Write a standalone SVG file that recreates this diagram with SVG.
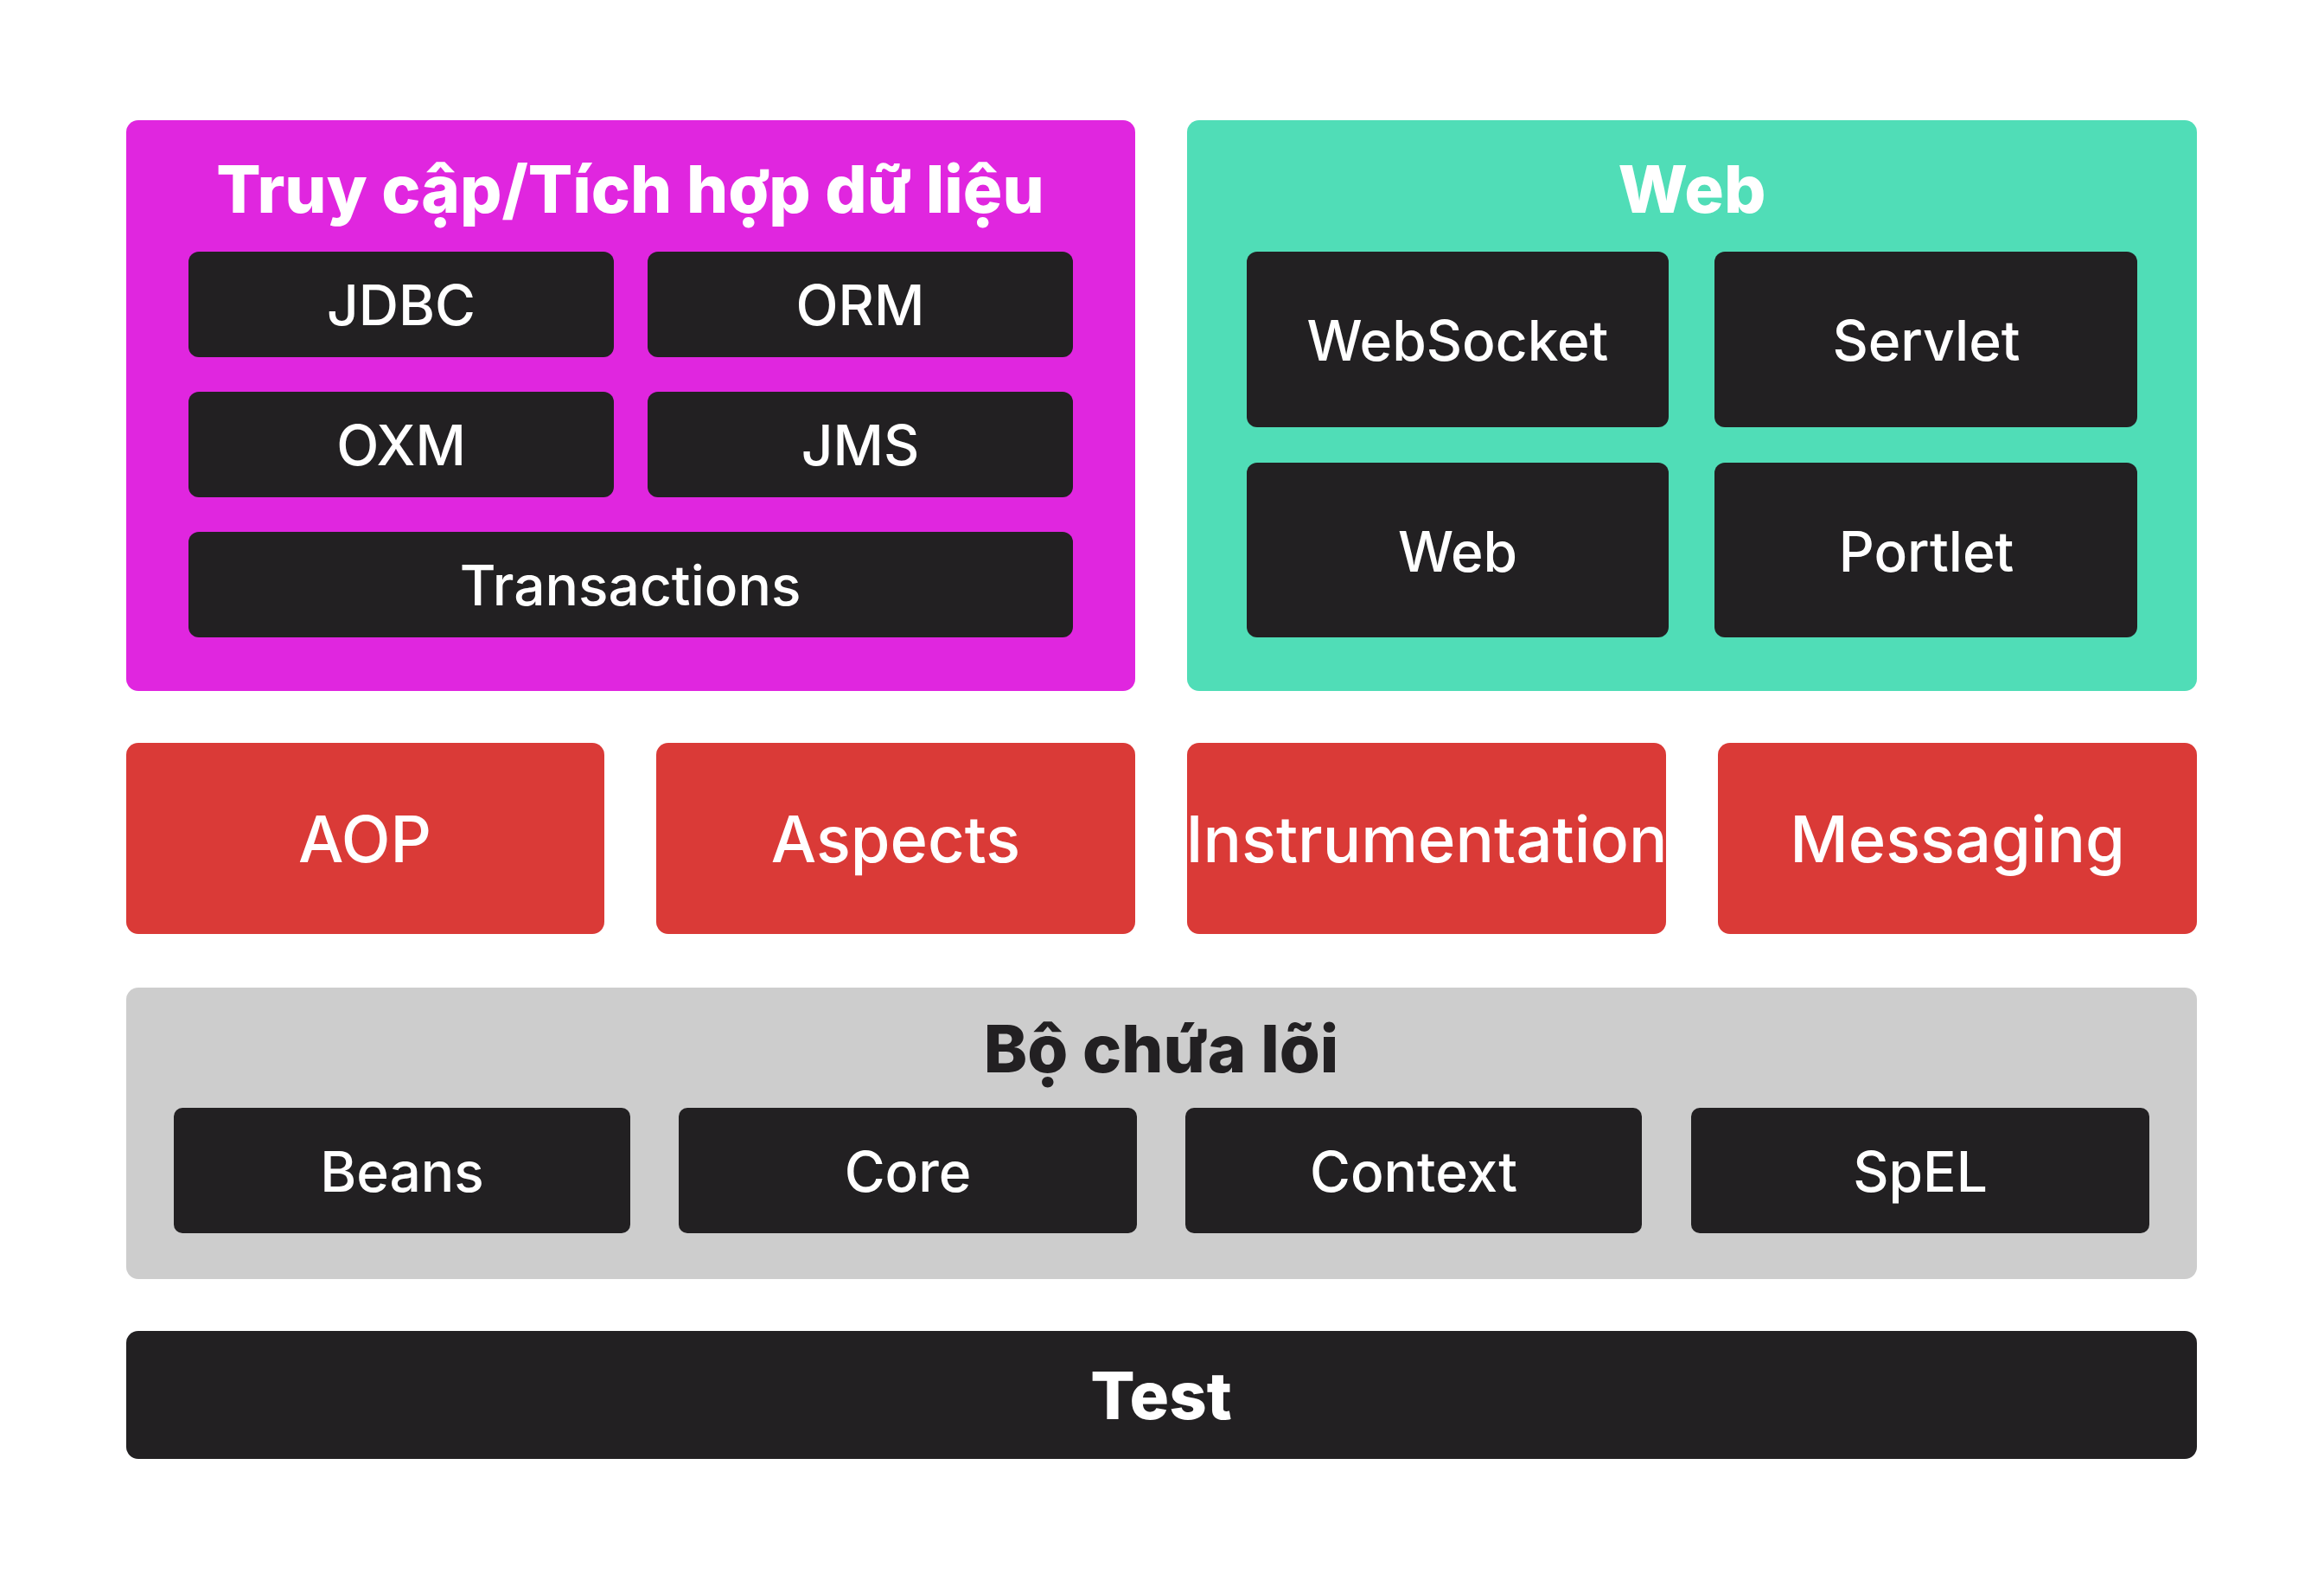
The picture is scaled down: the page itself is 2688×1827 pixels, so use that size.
<svg xmlns="http://www.w3.org/2000/svg" width="2688" height="1827" viewBox="0 0 2688 1827">
<style>
text{font-family:Inter,"Noto Sans",sans-serif;text-anchor:middle;dominant-baseline:central}
.d{fill:#222022}
.w{fill:#fff;font-size:64px;font-weight:500}
.r{fill:#fff;font-size:74px;font-weight:500}
.t{fill:#fff;font-size:76px;font-weight:800}
</style>
<rect width="2688" height="1827" fill="#fff"/>
<g id="data"><rect x="146" y="139" width="1167" height="660" rx="14" fill="#E026DF"/><text class="t" x="729" y="218">Truy cập/Tích hợp dữ liệu</text></g>
<g id="jdbc"><rect class="d" x="218" y="291" width="492" height="122" rx="12"/><text class="w" x="464" y="352">JDBC</text></g>
<g id="orm"><rect class="d" x="749" y="291" width="492" height="122" rx="12"/><text class="w" x="995" y="352">ORM</text></g>
<g id="oxm"><rect class="d" x="218" y="453" width="492" height="122" rx="12"/><text class="w" x="464" y="514">OXM</text></g>
<g id="jms"><rect class="d" x="749" y="453" width="492" height="122" rx="12"/><text class="w" x="995" y="514">JMS</text></g>
<g id="tx"><rect class="d" x="218" y="615" width="1023" height="122" rx="12"/><text class="w" x="729" y="676">Transactions</text></g>
<g id="web"><rect x="1373" y="139" width="1168" height="660" rx="14" fill="#50DDB7"/><text class="t" x="1957" y="218">Web</text></g>
<g id="websocket"><rect class="d" x="1442" y="291" width="488" height="203" rx="12"/><text class="w" x="1686" y="393">WebSocket</text></g>
<g id="servlet"><rect class="d" x="1983" y="291" width="489" height="203" rx="12"/><text class="w" x="2228" y="393">Servlet</text></g>
<g id="web2"><rect class="d" x="1442" y="535" width="488" height="202" rx="12"/><text class="w" x="1686" y="637">Web</text></g>
<g id="portlet"><rect class="d" x="1983" y="535" width="489" height="202" rx="12"/><text class="w" x="2228" y="637">Portlet</text></g>
<g id="aop"><rect x="146" y="859" width="553" height="221" rx="14" fill="#DA3A37"/><text class="r" x="422" y="970">AOP</text></g>
<g id="aspects"><rect x="759" y="859" width="554" height="221" rx="14" fill="#DA3A37"/><text class="r" x="1036" y="970">Aspects</text></g>
<g id="instr"><rect x="1373" y="859" width="554" height="221" rx="14" fill="#DA3A37"/><text class="r" x="1650" y="970" font-size="68px">Instrumentation</text></g>
<g id="msg"><rect x="1987" y="859" width="554" height="221" rx="14" fill="#DA3A37"/><text class="r" x="2264" y="970">Messaging</text></g>
<g id="core"><rect x="146" y="1142" width="2395" height="337" rx="14" fill="#CDCDCD"/><text class="t" x="1343" y="1212" fill="#222022" style="fill:#222022">Bộ chứa lõi</text></g>
<g id="beans"><rect class="d" x="201" y="1281" width="528" height="145" rx="10"/><text class="w" x="465" y="1354">Beans</text></g>
<g id="corem"><rect class="d" x="785" y="1281" width="530" height="145" rx="10"/><text class="w" x="1050" y="1354">Core</text></g>
<g id="context"><rect class="d" x="1371" y="1281" width="528" height="145" rx="10"/><text class="w" x="1635" y="1354">Context</text></g>
<g id="spel"><rect class="d" x="1956" y="1281" width="530" height="145" rx="10"/><text class="w" x="2221" y="1354">SpEL</text></g>
<g id="test"><rect class="d" x="146" y="1539" width="2395" height="148" rx="14"/><text class="t" x="1343" y="1613">Test</text></g>
<g id="connectors"></g>
</svg>
